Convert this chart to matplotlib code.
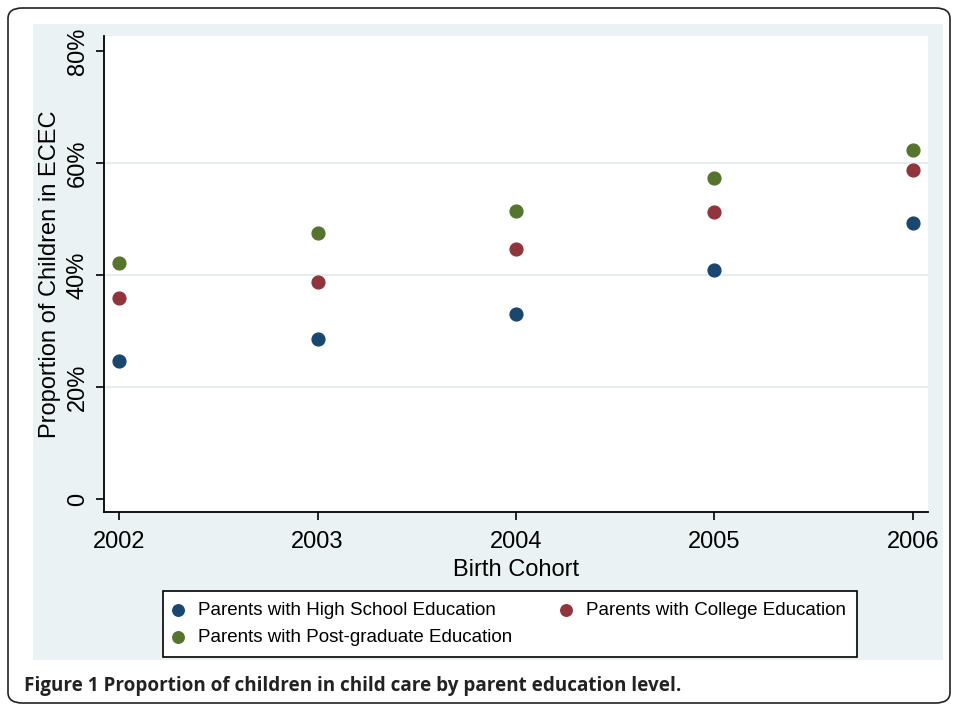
import matplotlib.pyplot as plt
from matplotlib.patches import FancyBboxPatch, Rectangle
from matplotlib.ticker import FuncFormatter

# values (percent)
years = [2002, 2003, 2004, 2005, 2006]
high_school = [24.7, 28.6, 33.1, 41.0, 49.3]
college = [35.9, 38.7, 44.7, 51.3, 58.7]
post_graduate = [42.1, 47.5, 51.5, 57.4, 62.4]
labels = ['Parents with High School Education',
          'Parents with College Education',
          'Parents with Post-graduate Education']
y_ticks = [0, 20, 40, 60, 80]

W, H = 956, 704
plt.rcParams['font.family'] = ['Liberation Sans', 'DejaVu Sans']

fig = plt.figure(figsize=(W / 100, H / 100), dpi=100)

# outer rounded frame
fig.patches.append(FancyBboxPatch((8 / W, 1 - 703 / H), 942 / W, 695 / H,
                                  boxstyle='round,pad=0,rounding_size=0.015',
                                  transform=fig.transFigure, fill=False,
                                  edgecolor='#222222', linewidth=1.2, zorder=0))
# stata graph region
fig.patches.append(Rectangle((33 / W, 1 - 660 / H), 910 / W, 636 / H,
                             transform=fig.transFigure, facecolor='#EAF2F3',
                             edgecolor='none', zorder=-1))

ax = fig.add_axes([104 / W, 1 - 512 / H, 824 / W, 476 / H])
ax.set_zorder(2)
ax.set_facecolor('white')

navy, maroon, green = '#1A476F', '#90353B', '#55752F'
h1 = ax.scatter(years, high_school, s=85, color=navy, zorder=3)
h2 = ax.scatter(years, college, s=85, color=maroon, zorder=3)
h3 = ax.scatter(years, post_graduate, s=85, color=green, zorder=3)

ax.set_xlim(2001.924, 2006.076)
ax.set_ylim(-2.3, 82.7)
ax.set_xticks(years)
ax.set_yticks(y_ticks)
ax.yaxis.set_major_formatter(FuncFormatter(lambda v, p: '0' if v == 0 else '%d%%' % v))
for g in [20, 40, 60]:
    ax.axhline(g, color='#E4EEF1', linewidth=1.6, zorder=1)

for side in ['top', 'right']:
    ax.spines[side].set_visible(False)
for side in ['left', 'bottom']:
    ax.spines[side].set_linewidth(1.3)
    ax.spines[side].set_color('black')
ax.tick_params(axis='both', length=6, width=1.2, labelsize=17)
ax.tick_params(axis='x', pad=8)
ax.tick_params(axis='y', pad=5)
for t in ax.get_yticklabels():
    t.set_rotation(90)
    t.set_va('center')

ax.set_xlabel('Birth Cohort', fontsize=17, labelpad=4)
ax.set_ylabel('Proportion of Children in ECEC', fontsize=17, labelpad=4)

# column-first fill: HS and post-grad in column 1, college in column 2
leg = fig.legend([h1, h3, h2], [labels[0], labels[2], labels[1]],
                 loc='lower left', bbox_to_anchor=(163 / W, 1 - 657 / H),
                 ncol=2, fontsize=13.5, frameon=True,
                 fancybox=False, framealpha=1, facecolor='white',
                 edgecolor='black', borderpad=0.6, borderaxespad=0,
                 handletextpad=0.85, columnspacing=2.68, labelspacing=0.5,
                 handlelength=0.4, markerscale=0.9)
leg.get_frame().set_linewidth(1.2)
leg.set_zorder(3)

fig.text(24 / W, 1 - 686 / H,
         'Figure 1 Proportion of children in child care by parent education level.',
         fontsize=13.6, fontweight='bold', family=['Open Sans', 'DejaVu Sans'],
         va='center', ha='left', color='#222222')

fig.savefig('out.png', dpi=100)
